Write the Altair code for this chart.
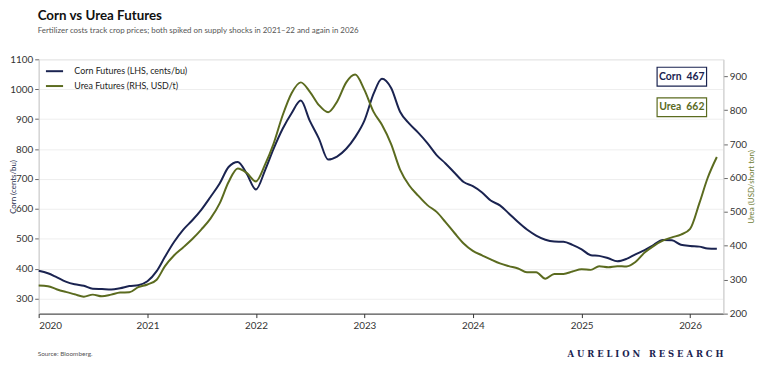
import altair as alt
import pandas as pd

months = pd.date_range("2020-01-01", periods=76, freq="MS")

corn = [393, 385, 372, 357, 348, 343, 333, 332, 331, 335, 342, 345,
        358, 392, 440, 490, 530, 562, 597, 640, 685, 740, 757, 718,
        665, 730, 800, 868, 920, 962, 895, 835, 765, 775, 801, 840,
        895, 985, 1035, 1004, 925, 885, 855, 820, 780, 752, 720, 690,
        676, 655, 628, 612, 585, 556, 531, 511, 497, 491, 490, 480,
        465, 445, 443, 435, 425, 433, 448, 462, 480, 496, 495, 480,
        476, 474, 468, 467]

urea = [283, 281, 272, 264, 257, 250, 256, 251, 256, 262, 263, 278,
        286, 300, 340, 372, 395, 420, 448, 480, 525, 588, 628, 615,
        590, 640, 700, 785, 850, 882, 855, 815, 794, 825, 882, 905,
        860, 795, 757, 700, 625, 578, 548, 520, 500, 470, 437, 407,
        385, 372, 360, 348, 340, 333, 322, 322, 303, 317, 317, 324,
        331, 329, 340, 337, 340, 339, 352, 380, 400, 415, 425, 433,
        450, 525, 600, 662]

series_names = ["Corn Futures (LHS, cents/bu)", "Urea Futures (RHS, USD/t)"]
NAVY = "#1a2350"
OLIVE = "#5b6b1f"

df_corn = pd.DataFrame({"date": months, "value": corn, "series": series_names[0]})
df_urea = pd.DataFrame({"date": months, "value": urea, "series": series_names[1]})

year_ticks = [alt.DateTime(year=y, month=1, date=1) for y in range(2020, 2027)]

xenc = alt.X("date:T",
             scale=alt.Scale(domain=[alt.DateTime(year=2020, month=1, date=1),
                                     alt.DateTime(year=2026, month=4, date=23)]),
             axis=alt.Axis(values=year_ticks, format="%Y", title=None, grid=False,
                           domainColor="#333333", tickColor="#333333", tickSize=4,
                           labelFontSize=10, labelColor="#333333", labelPadding=3,
                           labelFont="Lato"))

color = alt.Color("series:N",
                  scale=alt.Scale(domain=series_names, range=[NAVY, OLIVE]),
                  legend=alt.Legend(title=None, orient="none", legendX=6, legendY=2,
                                    symbolType="stroke", symbolSize=300,
                                    symbolStrokeWidth=2, labelFontSize=9,
                                    labelFont="Lato", labelColor="#222222",
                                    rowPadding=-9, labelOffset=10))

corn_line = alt.Chart(df_corn).mark_line(strokeWidth=2, interpolate="monotone").encode(
    x=xenc,
    y=alt.Y("value:Q",
            scale=alt.Scale(domain=[250, 1100], nice=False, zero=False),
            axis=alt.Axis(orient="left", values=list(range(300, 1101, 100)), format="d",
                          title="Corn (cents/bu)", titleColor="#2a3050",
                          titleFontSize=8, titleFontWeight="normal", titleFont="Lato",
                          titleX=-25, titleY=128.5, titleAngle=270,
                          titleBaseline="middle", titleAlign="center",
                          grid=True, gridColor="#eeeeee",
                          domainColor="#cccccc", tickColor="#666666", tickSize=4,
                          labelFontSize=10, labelColor="#333333", labelPadding=2,
                          labelFont="Lato")),
    color=color,
)

urea_line = alt.Chart(df_urea).mark_line(strokeWidth=2, interpolate="monotone").encode(
    x=xenc,
    y=alt.Y("value:Q",
            scale=alt.Scale(domain=[200, 950], nice=False, zero=False),
            axis=alt.Axis(orient="right", values=list(range(200, 901, 100)), format="d",
                          title="Urea (USD/short ton)", titleColor="#6f7d35",
                          titleFontSize=8, titleFontWeight="normal", titleFont="Lato",
                          titleX=28, titleY=128.5, titleAngle=270,
                          titleBaseline="middle", titleAlign="center", grid=False,
                          domainColor="#cccccc", tickColor="#666666", tickSize=4,
                          labelFontSize=10, labelColor="#333333", labelPadding=2,
                          labelFont="Lato")),
    color=color,
)

last = pd.DataFrame({"label": ["Corn\u00a0\u00a0" + str(corn[-1]),
                               "Urea\u00a0\u00a0" + str(urea[-1])]})

corn_box = alt.Chart(last.iloc[[0]]).mark_rect(fill="white", stroke=NAVY, strokeWidth=1.2).encode(
    x=alt.value(625), x2=alt.value(675), y=alt.value(8), y2=alt.value(27))
corn_txt = alt.Chart(last.iloc[[0]]).mark_text(
    font="Lato", fontSize=10.5, fontWeight="bold", color=NAVY, align="center", baseline="middle"
).encode(x=alt.value(650), y=alt.value(17.5), text="label:N")

urea_box = alt.Chart(last.iloc[[1]]).mark_rect(fill="white", stroke=OLIVE, strokeWidth=1.2).encode(
    x=alt.value(625), x2=alt.value(675), y=alt.value(39), y2=alt.value(58))
urea_txt = alt.Chart(last.iloc[[1]]).mark_text(
    font="Lato", fontSize=10.5, fontWeight="bold", color=OLIVE, align="center", baseline="middle"
).encode(x=alt.value(650), y=alt.value(48.5), text="label:N")

brand = "\u00a0".join("AURELION") + "\u00a0\u00a0\u00a0" + "\u00a0".join("RESEARCH")
foot = pd.DataFrame({"src": ["Source: Bloomberg."], "brand": [brand]})
src_txt = alt.Chart(foot).mark_text(
    font="Lato", fontSize=6.5, color="#555555", align="left", baseline="middle"
).encode(x=alt.value(-1), y=alt.value(298), text="src:N")
brand_txt = alt.Chart(foot).mark_text(
    font="DejaVu Serif", fontSize=8.5, fontWeight="bold", color="#1a2350", align="right",
    baseline="middle"
).encode(x=alt.value(692), y=alt.value(298), text="brand:N")

chart = alt.layer(
    corn_line, urea_line, corn_box, corn_txt, urea_box, urea_txt, src_txt, brand_txt
).resolve_scale(y="independent").properties(
    width=692, height=257,
    autosize=alt.AutoSizeParams(type="none"),
    padding={"left": 31, "top": 50, "right": 37, "bottom": 45},
    title=alt.TitleParams(
        "Corn vs Urea Futures",
        subtitle="Fertilizer costs track crop prices; both spiked on supply shocks in 2021\u201322 and again in 2026",
        anchor="start", frame="group", font="Lato", fontSize=13.5, fontWeight="bold",
        color="#111111", subtitleFont="Lato", subtitleFontSize=8, subtitleColor="#555555",
        subtitlePadding=4, offset=20, dx=-1),
).configure_view(stroke=None).configure(background="white")

chart.save("out.html", embed_options={"renderer": "svg", "actions": False})
